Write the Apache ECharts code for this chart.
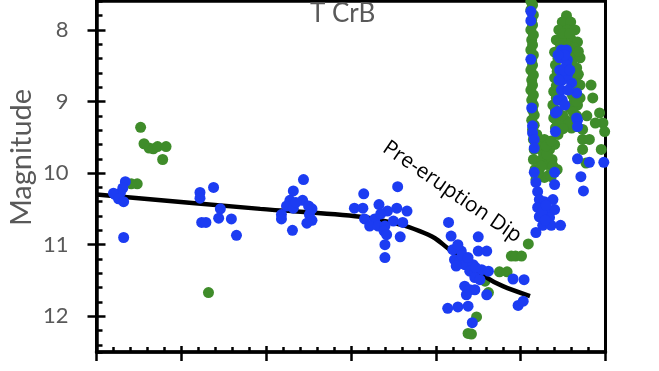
<!DOCTYPE html>
<html>
<head>
<meta charset="utf-8">
<script src="https://cdn.jsdelivr.net/npm/echarts@6/dist/echarts.min.js"></script>
<style>
html,body{margin:0;padding:0;background:#fff;}
#chart{width:659px;height:371px;}
</style>
</head>
<body>
<div id="chart"></div>
<script>
// Time in units of major x-axis divisions (no labels on the original)
var titleText = 'T CrB';
var yAxisName = 'Magnitude';
var annotationText = 'Pre-eruption Dip';

var trendLine = [[0,10.30],[1.93,10.50],[3.11,10.61],[3.58,10.72],[3.81,10.81],[3.99,10.91],[4.13,11.04],[4.60,11.46],[4.79,11.58],[5.11,11.72]];

var greenObs = [
  [0.52,9.36],[0.56,9.59],[0.62,9.65],[0.67,9.66],[0.72,9.63],[0.82,9.63],[0.78,9.81],[0.48,10.15],[0.41,10.15],[1.32,11.67],
  [5.09,10.99],[4.89,11.16],[4.94,11.16],[5.01,11.16],[4.75,11.38],[4.84,11.38],[4.58,11.51],[4.62,11.67],[4.48,12.01],[4.38,12.24],[4.42,12.25],
  [5.12,7.60],[5.12,7.72],[5.13,7.86],[5.12,8.00],[5.13,8.14],[5.12,8.28],[5.13,8.42],[5.12,8.56],[5.13,8.70],[5.12,8.84],[5.13,8.98],[5.14,9.12],[5.13,9.26],[5.14,9.39],[5.15,9.53],[5.16,9.67],[5.15,9.81],[5.17,9.95],[5.18,10.09],
  [5.14,7.65],[5.15,7.79],[5.14,7.93],[5.15,8.07],[5.14,8.21],[5.15,8.35],[5.14,8.49],[5.15,8.63],[5.14,8.77],[5.15,8.91],[5.15,9.05],[5.16,9.19],[5.16,9.33],[5.17,9.46],
  [5.19,9.46],[5.22,9.60],[5.28,9.53],[5.34,9.67],[5.40,9.60],[5.44,9.46],[5.25,9.81],[5.31,9.88],[5.37,9.81],[5.22,9.95],[5.34,10.02],[5.28,10.06],[5.41,9.37],[5.42,9.26],[5.41,9.12],[5.26,9.70],[5.31,9.74],[5.43,9.95],
  [5.20,9.62],[5.30,9.62],[5.36,9.55],[5.24,9.90],[5.38,9.90],[5.36,10.05],[5.20,10.02],
  [5.54,7.80],[5.49,7.89],[5.59,7.89],[5.45,8.00],[5.55,8.00],[5.64,8.00],[5.42,8.14],[5.51,8.14],[5.60,8.14],[5.67,8.17],[5.40,8.31],[5.64,8.35],[5.70,8.39],[5.41,8.49],[5.66,8.53],[5.40,8.67],[5.64,8.70],[5.70,8.77],[5.39,8.86],[5.61,8.91],[5.38,9.05],[5.58,9.09],[5.67,9.05],[5.39,9.23],[5.53,9.26],[5.64,9.23],[5.46,9.32],[5.60,9.37],
  [5.50,8.05],[5.58,8.05],[5.47,8.22],[5.56,8.22],[5.63,8.25],[5.44,8.40],[5.60,8.45],[5.68,8.30],[5.43,8.58],[5.61,8.62],[5.68,8.62],[5.42,8.78],[5.60,8.80],[5.67,8.75],[5.42,8.95],[5.63,9.00],[5.70,8.95],[5.44,9.15],[5.62,9.15],[5.50,9.20],[5.57,9.30],[5.50,9.38],
  [5.83,8.77],[5.85,8.95],[5.93,9.16],[5.97,9.30],[5.99,9.42],[5.95,9.67],[5.77,9.86],[5.73,9.39],[5.73,9.53],[5.73,9.67],[5.66,9.00],[5.66,9.20],[5.66,9.35],[5.81,9.53],[5.88,9.30],[5.78,9.20]
];

var blueObs = [
  [0.34,10.12],[0.31,10.21],[0.28,10.28],[0.22,10.30],[0.20,10.28],[0.26,10.36],[0.32,10.40],[0.32,10.90],
  [1.22,10.27],[1.22,10.35],[1.38,10.20],[1.46,10.50],[1.44,10.63],[1.24,10.69],[1.29,10.69],[1.59,10.64],[1.65,10.87],
  [2.44,10.09],[2.32,10.25],[2.28,10.38],[2.24,10.46],[2.43,10.38],[2.50,10.46],[2.54,10.50],[2.18,10.58],[2.18,10.64],[2.32,10.49],[2.51,10.58],[2.54,10.66],[2.48,10.70],[2.31,10.80],[2.35,10.41],
  [3.55,10.19],[3.15,10.29],[3.04,10.49],[3.14,10.49],[3.33,10.44],[3.43,10.53],[3.54,10.49],[3.66,10.53],[3.16,10.64],[3.28,10.64],[3.22,10.74],[3.32,10.74],[3.40,10.74],[3.50,10.67],[3.61,10.69],[3.39,10.81],[3.42,10.86],[3.58,10.89],[3.40,11.00],[3.40,11.18],[3.35,10.57],
  [4.15,10.69],[4.18,10.88],[4.50,10.89],[4.20,11.07],[4.30,11.09],[4.50,11.09],[4.60,11.09],[4.22,11.21],[4.28,11.23],[4.34,11.28],[4.44,11.28],[4.24,11.30],[4.40,11.37],[4.54,11.35],[4.62,11.37],[4.46,11.46],[4.52,11.49],[4.34,11.58],[4.40,11.63],[4.46,11.63],[4.36,11.70],[4.60,11.70],[4.91,11.48],[5.04,11.49],[4.38,11.86],[4.26,11.87],[4.14,11.89],[4.43,12.09],[4.97,11.85],[5.03,11.79],[4.31,11.15],[4.38,11.18],[4.47,11.32],[4.26,11.00],
  [5.12,7.74],[5.12,7.87],[5.12,8.41],[5.13,9.09],[5.14,9.34],[5.14,9.44],[5.16,9.53],[5.16,9.65],
  [5.16,9.99],[5.18,10.13],[5.20,10.26],[5.22,10.37],[5.28,10.40],[5.38,10.37],[5.20,10.48],[5.31,10.51],[5.40,10.51],[5.22,10.61],[5.34,10.62],[5.26,10.73],[5.36,10.73],[5.47,10.73],[5.18,10.83],[5.40,9.99],[5.40,10.16],[5.41,9.42],[5.41,9.16],[5.25,10.55],[5.30,10.45],[5.29,10.66],
  [5.48,8.28],[5.54,8.28],[5.46,8.39],[5.55,8.42],[5.46,8.56],[5.49,8.70],[5.60,8.74],[5.66,8.88],[5.48,8.84],[5.49,8.98],[5.43,9.14],[5.67,9.26],[5.66,9.23],[5.67,9.35],[5.54,8.49],[5.55,8.63],[5.52,8.35],[5.51,8.56],
  [5.44,8.35],[5.58,8.56],[5.45,8.70],[5.56,8.84],[5.44,8.98],[5.52,9.05],
  [5.67,9.80],[5.71,10.05],[5.74,10.25],[5.81,9.85],[5.98,9.85]
];

var GRAY = '#595959';
var chart = echarts.init(document.getElementById('chart'), null, {renderer:'canvas'});
chart.setOption({
  animation:false,
  backgroundColor:'#ffffff',
  title:{text:titleText,left:310,top:1,padding:0,textStyle:{fontFamily:'Lato',fontSize:26,fontWeight:'normal',color:GRAY}},
  grid:[
    {left:96.5,right:53.5,top:1.33,bottom:19,show:true,borderColor:'#000',borderWidth:3,backgroundColor:'transparent'},
    {left:96.5,right:53.5,top:29.96,bottom:54.8,show:false}
  ],
  xAxis:[
    {type:'value',gridIndex:0,position:'bottom',min:0,max:6,interval:1,
     axisLine:{show:true,lineStyle:{color:'#000',width:3.5}},
     axisTick:{show:true,inside:true,length:6,lineStyle:{color:'#000',width:2.5}},
     minorTick:{show:true,splitNumber:5,length:5,lineStyle:{color:'#000',width:2.5}},
     axisLabel:{show:false},splitLine:{show:false}},
    {type:'value',gridIndex:0,position:'bottom',min:0,max:6,interval:1,
     axisLine:{show:false},
     axisTick:{show:true,inside:false,length:9,lineStyle:{color:'#000',width:2.5}},
     axisLabel:{show:false},splitLine:{show:false}},
    {type:'value',gridIndex:1,show:false,min:0,max:6}
  ],
  yAxis:[
    {type:'value',gridIndex:0,position:'left',inverse:true,min:7.6,max:12.5,interval:0.2,
     axisLine:{show:true,lineStyle:{color:'#000',width:3.5}},
     axisTick:{show:true,inside:true,length:6,lineStyle:{color:'#000',width:2.5}},
     axisLabel:{show:false},splitLine:{show:false}},
    {type:'value',gridIndex:1,position:'left',inverse:true,min:8,max:12,interval:1,offset:-9,
     axisLine:{show:false},
     axisTick:{show:true,inside:false,length:18,lineStyle:{color:'#000',width:2.5}},
     axisLabel:{show:true,margin:37,color:GRAY,fontFamily:'Lato',fontSize:22},
     splitLine:{show:false}}
  ],
  graphic:[
    {type:'text',x:22,y:157.5,rotation:Math.PI/2,z:20,
     style:{text:yAxisName,fill:GRAY,font:'29px Lato',textAlign:'center',textVerticalAlign:'middle'}},
    {type:'text',x:452,y:192,rotation:-34.5*Math.PI/180,z:20,
     style:{text:annotationText,fill:'#000',font:'21px "Open Sans"',textAlign:'center',textVerticalAlign:'middle'}}
  ],
  series:[
    {type:'scatter',name:'green',xAxisIndex:0,yAxisIndex:0,data:greenObs,symbol:'circle',symbolSize:11,
     itemStyle:{color:'#3f8c2a',opacity:1},z:2},
    {type:'line',name:'trend',xAxisIndex:0,yAxisIndex:0,data:trendLine,showSymbol:false,smooth:0.3,
     lineStyle:{color:'#000',width:4.5},z:3},
    {type:'scatter',name:'blue',xAxisIndex:0,yAxisIndex:0,data:blueObs,symbol:'circle',symbolSize:11,
     itemStyle:{color:'#1c3cf2',opacity:1},z:4}
  ]
});
</script>
</body>
</html>
